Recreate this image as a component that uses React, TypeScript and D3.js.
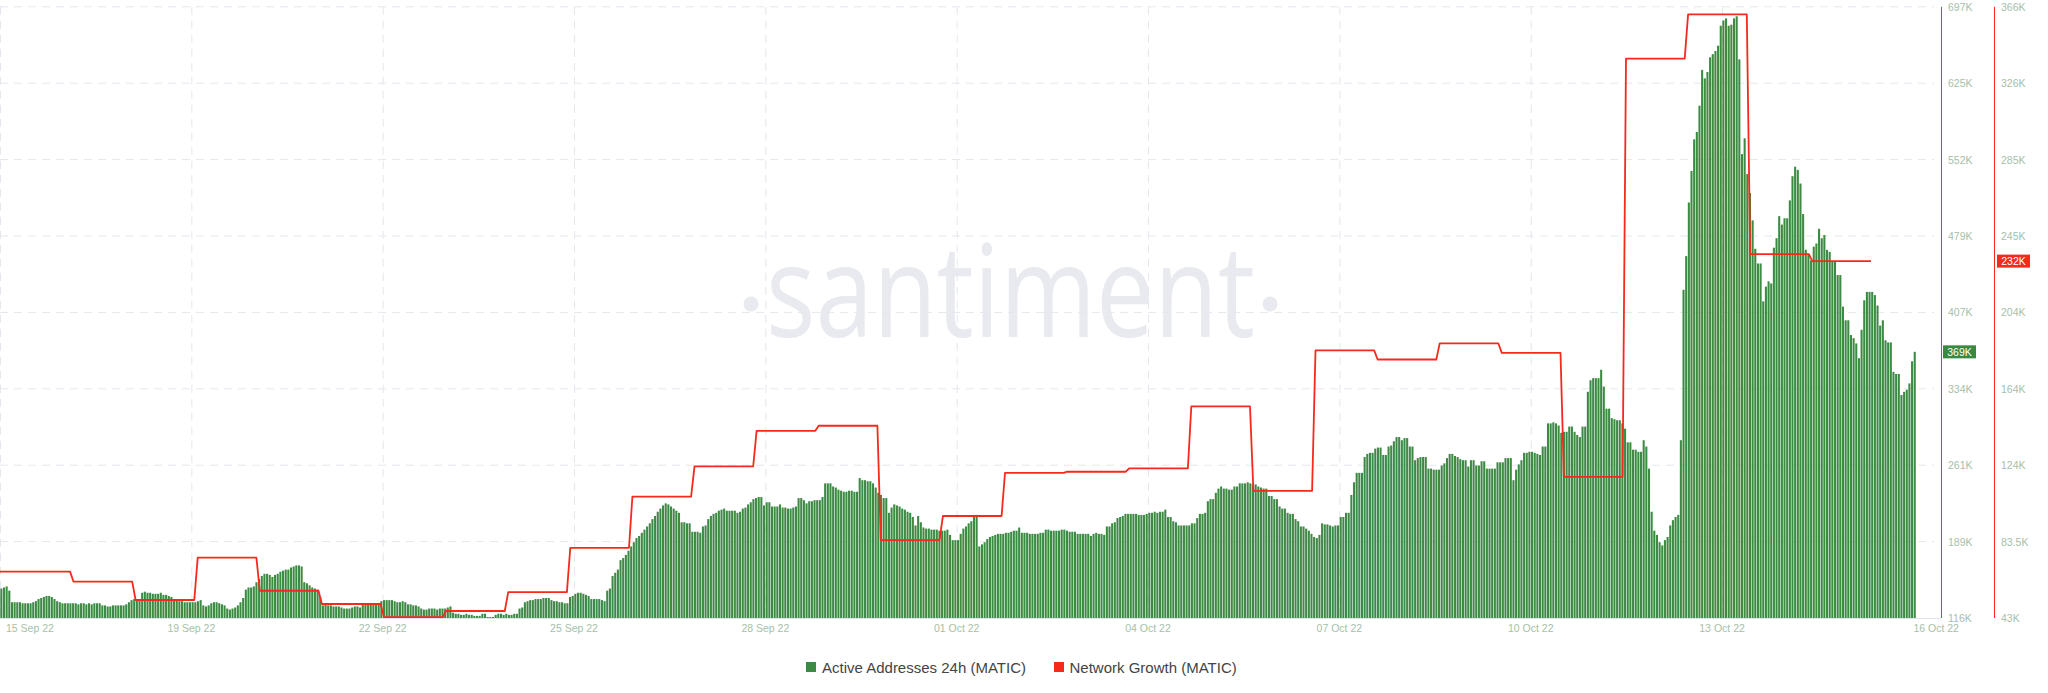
import React from "react";
import * as d3 from "d3";

const W = 2048;
const H = 693;

// Active Addresses 24h (MATIC), in thousands, hourly from 16 Sep 2022 00:00 UTC to 16 Oct 2022 00:00 UTC
const activeAddressesK: number[] = [
  // 16 Sep
  144, 145, 146, 142, 131, 131, 131, 131, 130, 130, 130, 130, 131, 132, 134, 135, 136, 137, 137, 136, 134, 132, 131, 130,
  // 17 Sep
  130, 130, 130, 130, 130, 129, 130, 130, 129, 130, 129, 130, 130, 130, 128, 128, 127, 127, 128, 128, 128, 128, 128, 129,
  // 18 Sep
  131, 133, 134, 134, 133, 140, 141, 140, 140, 139, 139, 139, 140, 138, 138, 137, 136, 133, 133, 132, 132, 131, 131, 131,
  // 19 Sep
  131, 131, 132, 133, 128, 127, 128, 130, 131, 131, 130, 129, 128, 125, 124, 125, 126, 128, 131, 135, 143, 145, 145, 146,
  // 20 Sep
  150, 153, 156, 158, 158, 157, 155, 157, 158, 160, 161, 162, 162, 164, 165, 166, 166, 165, 150, 149, 147, 145, 144, 143,
  // 21 Sep
  136, 128, 130, 128, 128, 127, 127, 127, 126, 125, 125, 125, 126, 127, 127, 126, 130, 129, 130, 129, 130, 130, 129, 132,
  // 22 Sep
  133, 133, 133, 133, 132, 131, 131, 132, 131, 129, 129, 128, 128, 127, 125, 124, 124, 125, 125, 125, 124, 125, 125, 125,
  // 23 Sep
  126, 127, 121, 120, 120, 119, 119, 120, 119, 119, 118, 118, 118, 120, 120, 117, 117, 117, 119, 120, 120, 119, 120, 119,
  // 24 Sep
  119, 120, 120, 125, 126, 131, 132, 133, 133, 134, 134, 134, 135, 135, 135, 133, 132, 132, 131, 131, 130, 130, 136, 137,
  // 25 Sep
  139, 140, 140, 139, 138, 137, 134, 134, 134, 134, 133, 132, 142, 144, 156, 159, 162, 171, 173, 176, 180, 184, 188, 192,
  // 26 Sep
  194, 197, 200, 203, 206, 210, 213, 217, 220, 223, 225, 224, 222, 220, 218, 216, 207, 207, 206, 206, 198, 198, 198, 197,
  // 27 Sep
  203, 204, 210, 213, 215, 216, 218, 219, 220, 218, 218, 218, 218, 216, 217, 220, 221, 224, 226, 229, 230, 231, 231, 223,
  // 28 Sep
  226, 226, 222, 222, 222, 224, 221, 221, 220, 220, 221, 222, 230, 230, 228, 225, 227, 227, 228, 228, 228, 231, 244, 244,
  // 29 Sep
  244, 241, 240, 238, 237, 236, 236, 237, 237, 236, 236, 249, 247, 247, 246, 246, 244, 240, 235, 233, 230, 230, 216, 221,
  // 30 Sep
  224, 223, 222, 220, 219, 217, 216, 212, 204, 213, 207, 202, 201, 201, 200, 200, 200, 199, 199, 199, 200, 195, 190, 190,
  // 01 Oct
  190, 196, 201, 203, 206, 208, 214, 214, 184, 186, 188, 191, 193, 194, 195, 196, 196, 196, 197, 197, 198, 199, 199, 202,
  // 02 Oct
  197, 197, 197, 196, 196, 196, 196, 197, 197, 200, 200, 199, 199, 199, 199, 200, 200, 199, 198, 198, 198, 196, 196, 196,
  // 03 Oct
  196, 196, 194, 196, 197, 196, 196, 195, 203, 203, 206, 207, 211, 212, 213, 215, 215, 215, 215, 215, 214, 214, 214, 215,
  // 04 Oct
  216, 216, 217, 216, 217, 217, 219, 212, 212, 208, 207, 204, 204, 204, 204, 204, 206, 206, 211, 215, 215, 216, 227, 229,
  // 05 Oct
  229, 235, 239, 241, 239, 239, 238, 238, 241, 241, 244, 244, 244, 245, 244, 243, 243, 241, 240, 239, 239, 232, 232, 229,
  // 06 Oct
  229, 222, 220, 220, 216, 215, 215, 210, 208, 203, 203, 201, 199, 196, 193, 192, 195, 206, 205, 205, 204, 203, 204, 204,
  // 07 Oct
  212, 212, 216, 216, 233, 245, 254, 254, 254, 269, 272, 273, 273, 277, 278, 278, 271, 271, 279, 280, 284, 288, 288, 285,
  // 08 Oct
  287, 287, 279, 279, 266, 268, 269, 269, 269, 258, 258, 257, 257, 257, 261, 263, 268, 272, 272, 270, 269, 267, 266, 266,
  // 09 Oct
  260, 266, 266, 261, 261, 265, 265, 258, 258, 258, 258, 264, 264, 264, 268, 268, 268, 247, 257, 262, 266, 273, 273, 274,
  // 10 Oct
  274, 273, 272, 271, 279, 279, 301, 301, 302, 301, 299, 292, 293, 293, 298, 298, 293, 290, 288, 298, 298, 331, 342, 344,
  // 11 Oct
  344, 344, 352, 336, 315, 315, 306, 305, 304, 304, 301, 296, 283, 283, 276, 276, 274, 274, 285, 279, 258, 217, 199, 195,
  // 12 Oct
  188, 185, 190, 193, 204, 209, 212, 214, 285, 428, 460, 511, 541, 571, 578, 603, 637, 629, 635, 649, 652, 655, 660, 679,
  // 13 Oct
  684, 686, 679, 680, 686, 688, 647, 557, 572, 538, 520, 494, 467, 453, 453, 417, 431, 436, 434, 468, 477, 498, 490, 496,
  // 14 Oct
  496, 513, 536, 545, 542, 529, 500, 466, 462, 456, 469, 472, 486, 477, 480, 466, 464, 455, 455, 442, 442, 412, 399, 399,
  // 15 Oct
  385, 382, 377, 363, 390, 418, 426, 426, 426, 423, 413, 394, 399, 380, 378, 378, 350, 348, 348, 328, 331, 333, 339, 360,
  // 16 Oct
  369,
];

// Network Growth (MATIC), in thousands, daily from 16 Sep 2022 to 15 Oct 2022
const networkGrowthK: number[] = [
  67.5, 62.2, 52.5, 74.9, 57.4, 50.4, 43.5, 46.7, 56.7, 80.1, 107.1, 123.1, 141.9, 144.6, 84.2,
  96.9, 119.7, 120.3, 122.1, 154.8, 110.2, 184.4, 179.6, 188.1, 183.1, 117.6, 338.6, 362.0, 235.3, 231.6,
];

const activeTickLabels = ["116K", "189K", "261K", "334K", "407K", "479K", "552K", "625K", "697K"];
const growthTickLabels = ["43K", "83.5K", "124K", "164K", "204K", "245K", "285K", "326K", "366K"];
const edgeDateLabels = ["15 Sep 22", "16 Oct 22"];
const legendLabels = ["Active Addresses 24h (MATIC)", "Network Growth (MATIC)"];
const watermarkText = "santiment";

const ACTIVE_DOMAIN: [number, number] = [116, 697];
const GROWTH_DOMAIN: [number, number] = [43, 366];

const GREEN = "#3d8a44";
const GREEN_DARK = "#3a8940";
const RED = "#f52a1d";
const GRID = "#e5e7ee";
const TICK_TEXT = "#a5c0a9";
const FONT = "'Liberation Sans', Arial, sans-serif";

const HOUR = 3600 * 1000;
const DAY = 24 * HOUR;
const T0 = Date.UTC(2022, 8, 16);

export default function App() {
  const plotTop = 6.8;
  const plotBottom = 618;
  const gridRight = 1934;
  const axisGX = 1941;
  const axisRX = 1994;

  const x = d3
    .scaleUtc()
    .domain([new Date(T0), new Date(T0 + 30 * DAY)])
    .range([0, 1913.4]);
  const xLine = d3
    .scaleUtc()
    .domain([new Date(T0), new Date(T0 + 30 * DAY)])
    .range([8, 1871]);
  const yA = d3.scaleLinear().domain(ACTIVE_DOMAIN).range([plotBottom, plotTop]);
  const yG = d3.scaleLinear().domain(GROWTH_DOMAIN).range([plotBottom, plotTop]);

  const activeTicks = d3.range(9).map((i) => ACTIVE_DOMAIN[0] + (i * (ACTIVE_DOMAIN[1] - ACTIVE_DOMAIN[0])) / 8);
  const growthTicks = d3.range(9).map((i) => GROWTH_DOMAIN[0] + (i * (GROWTH_DOMAIN[1] - GROWTH_DOMAIN[0])) / 8);

  const bars = activeAddressesK.map((v, i) => ({ t: new Date(T0 + i * HOUR), v }));
  const step = x(new Date(T0 + HOUR)) - x(new Date(T0));
  const bw = step * 0.78;

  const linePts: [number, number][] = [];
  networkGrowthK.forEach((v, k) => {
    const xs = k === 0 ? 0 : xLine(new Date(T0 + k * DAY)) + 3.4;
    const xe = xLine(new Date(T0 + (k + 1) * DAY));
    linePts.push([xs, yG(v)], [xe, yG(v)]);
  });
  const linePath = d3.line()(linePts) || "";

  const dateTicks = d3.range(1, 10).map((k) => new Date(T0 + 3 * k * DAY));
  const gridDates = d3.range(0, 10).map((k) => new Date(T0 + 3 * k * DAY));
  const fmt = d3.utcFormat("%d %b %y");

  const lastActive = activeAddressesK[activeAddressesK.length - 1];
  const lastGrowth = networkGrowthK[networkGrowthK.length - 1];

  return (
    <div>
      <style>{`body{margin:0;background:#fff}`}</style>
      <svg width={W} height={H} style={{ display: "block", background: "#fff" }}>
        {/* watermark */}
        <g fill="#e9eaf0">
          <circle cx={751} cy={304} r={7.5} />
          <circle cx={1270} cy={304} r={7.5} />
          <text
            x={766}
            y={337}
            fontSize={128}
            fontFamily="'Open Sans', 'Noto Sans', sans-serif"
            textLength={489}
            lengthAdjust="spacingAndGlyphs"
          >
            {watermarkText}
          </text>
        </g>

        {/* grid */}
        <g stroke={GRID} strokeWidth={1} strokeDasharray="8 6" fill="none">
          {activeTicks.slice(1).map((v, i) => (
            <line key={"h" + i} x1={0} x2={gridRight} y1={yA(v)} y2={yA(v)} />
          ))}
          {gridDates.map((d, i) => (
            <line key={"v" + i} x1={x(d) + 0.5} x2={x(d) + 0.5} y1={plotTop} y2={plotBottom} />
          ))}
        </g>
        <line x1={0} x2={axisGX} y1={plotBottom + 0.5} y2={plotBottom + 0.5} stroke="#e1e3ec" strokeWidth={1} />

        {/* bars */}
        <g fill={GREEN}>
          {bars.map((b, i) => (
            <rect key={i} x={x(b.t) + 0.3} y={yA(b.v)} width={bw} height={plotBottom - yA(b.v)} />
          ))}
        </g>

        {/* network growth line */}
        <path d={linePath} fill="none" stroke={RED} strokeWidth={1.8} strokeLinejoin="round" />

        {/* axes */}
        <line x1={axisGX + 0.5} x2={axisGX + 0.5} y1={plotTop} y2={plotBottom} stroke={GREEN_DARK} strokeWidth={1} />
        <line x1={axisRX + 0.5} x2={axisRX + 0.5} y1={plotTop} y2={plotBottom} stroke={RED} strokeWidth={1} />
        <g fontFamily={FONT} fontSize={10.5} fill={TICK_TEXT}>
          {activeTicks.map((v, i) => (
            <text key={"a" + i} x={axisGX + 7} y={yA(v)} dominantBaseline="central">
              {activeTickLabels[i]}
            </text>
          ))}
          {growthTicks.map((v, i) => (
            <text key={"g" + i} x={axisRX + 7} y={yG(v)} dominantBaseline="central">
              {growthTickLabels[i]}
            </text>
          ))}
          <text x={6} y={628} dominantBaseline="central">
            {edgeDateLabels[0]}
          </text>
          {dateTicks.map((d, i) => (
            <text key={"d" + i} x={x(d)} y={628} textAnchor="middle" dominantBaseline="central">
              {fmt(d)}
            </text>
          ))}
          <text x={x(new Date(T0 + 30 * DAY))} y={628} dominantBaseline="central">
            {edgeDateLabels[1]}
          </text>
        </g>

        {/* latest value badges */}
        <g fontFamily={FONT} fontSize={10.5}>
          <rect x={axisGX + 2} y={yA(lastActive) - 6.5} width={33} height={13} fill={GREEN_DARK} />
          <text x={axisGX + 18.5} y={yA(lastActive)} fill="#fff" textAnchor="middle" dominantBaseline="central">
            {Math.round(lastActive) + "K"}
          </text>
          <rect x={axisRX + 3} y={yG(lastGrowth) - 6.5} width={33} height={13} fill={RED} />
          <text x={axisRX + 19.5} y={yG(lastGrowth)} fill="#fff" textAnchor="middle" dominantBaseline="central">
            {Math.round(lastGrowth) + "K"}
          </text>
        </g>

        {/* legend */}
        <g fontFamily={FONT} fontSize={15} fill="#444">
          <rect x={806} y={662} width={10} height={10} fill={GREEN} />
          <text x={822} y={667} dominantBaseline="central">
            {legendLabels[0]}
          </text>
          <rect x={1054} y={662} width={10} height={10} fill={RED} />
          <text x={1069.5} y={667} dominantBaseline="central">
            {legendLabels[1]}
          </text>
        </g>
      </svg>
    </div>
  );
}
